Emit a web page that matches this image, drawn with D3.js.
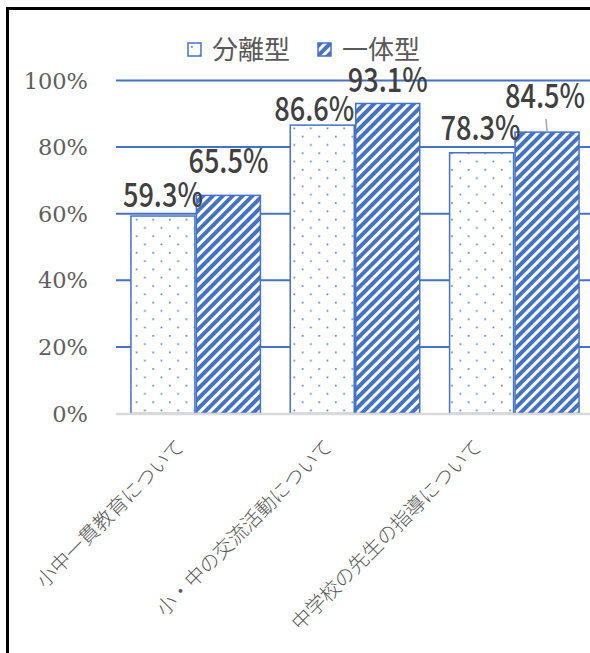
<!DOCTYPE html>
<html>
<head>
<meta charset="utf-8">
<script src="https://cdn.jsdelivr.net/npm/d3@7"></script>
<style>
  html, body { margin: 0; padding: 0; background: #fff; }
  svg { display: block; }
</style>
</head>
<body>
<svg id="chart" width="590" height="653"></svg>
<script>
// chart data
const categories = ["小中一貫教育について", "小・中の交流活動について", "中学校の先生の指導について"];
const seriesNames = ["分離型", "一体型"];
const bunriValues = [0.593, 0.866, 0.783];
const ittaiValues = [0.655, 0.931, 0.845];
const yTicks = [0, 0.2, 0.4, 0.6, 0.8, 1.0];
const valueLabels = [["59.3%", "86.6%", "78.3%"], ["65.5%", "93.1%", "84.5%"]];

// manual label placement, like the hand-dragged labels in the original
const labelGap = [[9, 4, 13], [22, 11, 24]];
const labelShift = [[0, -8, -1], [0, 0, -2]];
const catShift = [-10, -21, -31];

const blue = "#4472C4";
const svg = d3.select("#chart");

// chart frame (only left and top edge show in the window)
svg.append("rect")
  .attr("x", 7.5).attr("y", 8.5)
  .attr("width", 700).attr("height", 700)
  .attr("fill", "none").attr("stroke", "#000").attr("stroke-width", 3);

// patterns
const defs = svg.append("defs");
const dots = defs.append("pattern")
  .attr("id", "dots").attr("patternUnits", "userSpaceOnUse")
  .attr("width", 16.6).attr("height", 16.6);
dots.append("rect").attr("width", 16.6).attr("height", 16.6).attr("fill", "#fff");
dots.append("rect").attr("x", 3).attr("y", 3).attr("width", 1.6).attr("height", 1.6).attr("fill", blue);
dots.append("rect").attr("x", 11.3).attr("y", 11.3).attr("width", 1.6).attr("height", 1.6).attr("fill", blue);

const stripes = defs.append("pattern")
  .attr("id", "stripes").attr("patternUnits", "userSpaceOnUse")
  .attr("width", 7).attr("height", 7)
  .attr("patternTransform", "rotate(45)");
stripes.append("rect").attr("width", 7).attr("height", 7).attr("fill", "#fff");
stripes.append("rect").attr("x", 0).attr("y", 0).attr("width", 4).attr("height", 7).attr("fill", blue);

const fills = ["url(#dots)", "url(#stripes)"];

// scales
let x0 = d3.scaleBand().domain(categories).range([116, 594])
  .paddingInner(0.178).paddingOuter(0.089);
let x1 = d3.scaleBand().domain(seriesNames).range([0, x0.bandwidth()]);
let y = d3.scaleLinear().domain([0, 1]).range([413.5, 80.5]);

// gridlines
svg.append("g")
  .selectAll("line")
  .data(yTicks.filter(d => d > 0))
  .enter()
  .append("line")
  .attr("x1", 116).attr("x2", 590)
  .attr("y1", d => y(d)).attr("y2", d => y(d))
  .attr("stroke", blue).attr("stroke-width", 2);

// y axis labels
svg.append("g")
  .selectAll("text")
  .data(yTicks)
  .enter()
  .append("text")
  .attr("x", 88)
  .attr("y", d => y(d))
  .attr("dy", "0.36em")
  .attr("text-anchor", "end")
  .style("font-family", "'DejaVu Serif', serif")
  .style("font-size", "22.5px")
  .style("fill", "#606060")
  .text(d => d3.format(".0%")(d));

// bars
const seriesData = [bunriValues, ittaiValues];
const barData = [];
seriesData.forEach((vals, s) => {
  vals.forEach((v, i) => barData.push({ s: s, i: i, v: v }));
});

svg.append("g")
  .selectAll("rect")
  .data(barData)
  .enter()
  .append("rect")
  .attr("x", d => x0(categories[d.i]) + x1(seriesNames[d.s]) + 0.75)
  .attr("y", d => y(d.v))
  .attr("width", x1.bandwidth() - 1.5)
  .attr("height", d => y(0) - y(d.v))
  .attr("fill", d => fills[d.s])
  .attr("stroke", blue)
  .attr("stroke-width", 1.5);

// zero line
svg.append("line")
  .attr("x1", 116).attr("x2", 590)
  .attr("y1", y(0) + 0.5).attr("y2", y(0) + 0.5)
  .attr("stroke", "#d9d9d9").attr("stroke-width", 2.5);

// leader line for the moved label
svg.append("line")
  .attr("x1", 546).attr("y1", 119)
  .attr("x2", x0(categories[2]) + x1(seriesNames[1]) + x1.bandwidth() / 2)
  .attr("y2", y(ittaiValues[2]) - 1)
  .attr("stroke", "#a6a6a6").attr("stroke-width", 1.5);

// value labels
svg.append("g")
  .selectAll("text")
  .data(barData)
  .enter()
  .append("text")
  .attr("x", d => x0(categories[d.i]) + x1(seriesNames[d.s]) + x1.bandwidth() / 2 + labelShift[d.s][d.i])
  .attr("y", d => y(d.v) - labelGap[d.s][d.i])
  .attr("text-anchor", "middle")
  .attr("textLength", 80)
  .attr("lengthAdjust", "spacingAndGlyphs")
  .style("font-family", "'Noto Sans CJK JP', sans-serif")
  .style("font-weight", "500")
  .style("font-size", "34px")
  .style("fill", "#404040")
  .text(d => valueLabels[d.s][d.i]);

// category labels, rotated
svg.append("g")
  .selectAll("text")
  .data(categories)
  .enter()
  .append("text")
  .attr("transform", (d, i) => "translate(" + (x0(d) + x0.bandwidth() / 2 + catShift[i]) + ",448) rotate(-45)")
  .attr("text-anchor", "end")
  .style("font-family", "'Noto Sans CJK JP', sans-serif")
  .style("font-weight", "300")
  .style("font-size", "20px")
  .style("fill", "#595959")
  .text(d => d);

// legend
const legend = svg.append("g")
  .selectAll("g")
  .data(seriesNames)
  .enter()
  .append("g")
  .attr("transform", (d, i) => "translate(" + (188 + i * 130) + ",43)");

legend.append("rect")
  .attr("width", 13).attr("height", 13)
  .attr("fill", (d, i) => fills[i])
  .attr("stroke", blue).attr("stroke-width", 1.5);

legend.append("text")
  .attr("x", 24)
  .attr("y", 6.5)
  .attr("dy", "0.36em")
  .style("font-family", "'Noto Sans CJK JP', sans-serif")
  .style("font-size", "26px")
  .style("fill", "#595959")
  .text(d => d);
</script>
</body>
</html>
